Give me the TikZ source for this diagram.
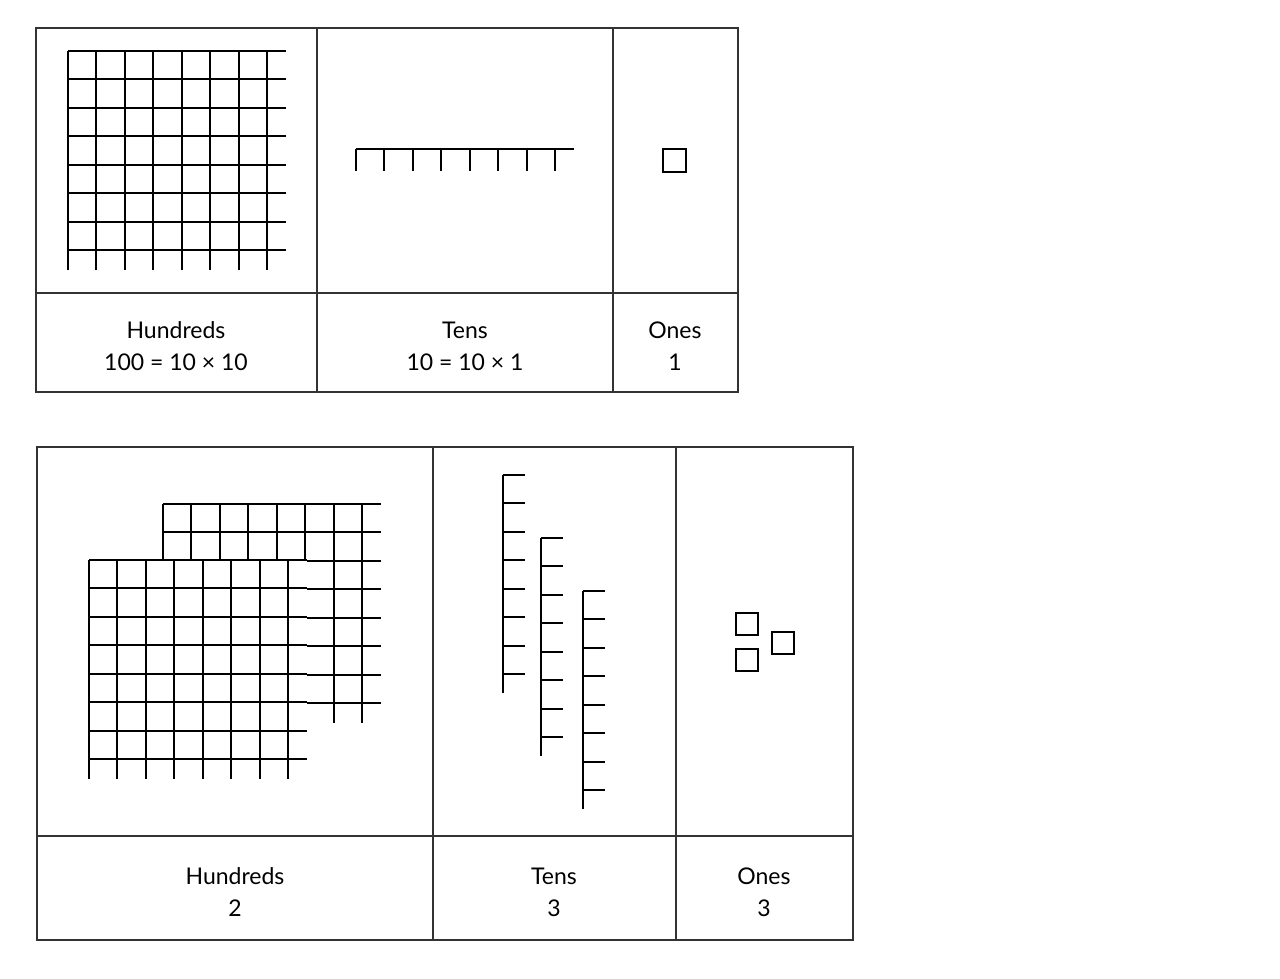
\documentclass[tikz,border=0pt]{standalone}
\usepackage{fontspec}
\setmainfont{Lato}
\begin{document}
\begin{tikzpicture}[x=1pt,y=-1pt,
  frame/.style={draw=black!80,line width=1.5pt},
  blk/.style={draw=black,line width=2pt,fill=white},
  lbl/.style={align=center,font=\fontsize{23}{32}\selectfont,inner sep=0pt}]
\useasboundingbox (0,0) rectangle (1280,979);
% top table
\draw[frame] (36,28) rectangle (738,392);
\draw[frame] (36,293) -- (738,293) (317,28) -- (317,392) (613,28) -- (613,392);
\begin{scope}[shift={(68,51)},x=21.8pt,y=-21.9pt]
 \draw[blk] (0,0) grid (10,10);
\end{scope}
\begin{scope}[shift={(356,149)},x=21.8pt,y=-22pt]
 \draw[blk] (0,0) grid (10,1);
\end{scope}
\draw[blk] (663,149) rectangle (686,172);
\node[lbl] (h1) at (176,346) {Hundreds\\100 = 10 × 10};
\node[lbl] (t1) at (465,346) {Tens\\10 = 10 × 1};
\node[lbl] (o1) at (675,346) {Ones\\1};
% bottom table
\draw[frame] (37,447) rectangle (853,940);
\draw[frame] (37,836) -- (853,836) (433,447) -- (433,940) (676,447) -- (676,940);
\begin{scope}[shift={(163,504)},x=21.8pt,y=-21.9pt]
 \fill[white] (0,0) rectangle (10,10); \draw[blk] (0,0) grid (10,10);
\end{scope}
\begin{scope}[shift={(89,560)},x=21.8pt,y=-21.9pt]
 \fill[white] (0,0) rectangle (10,10); \draw[blk] (0,0) grid (10,10);
\end{scope}
\foreach \x/\y in {503/475,541/538,583/591}{
 \begin{scope}[shift={(\x,\y)},x=22pt,y=-21.75pt]
  \draw[blk] (0,0) grid (1,10);
 \end{scope}}
\draw[blk] (736,613) rectangle (758,635);
\draw[blk] (772,632) rectangle (794,654);
\draw[blk] (736,649) rectangle (758,671);
\node[lbl] (h2) at (235,892) {Hundreds\\2};
\node[lbl] (t2) at (554,892) {Tens\\3};
\node[lbl] (o2) at (764,892) {Ones\\3};
\end{tikzpicture}
\end{document}
